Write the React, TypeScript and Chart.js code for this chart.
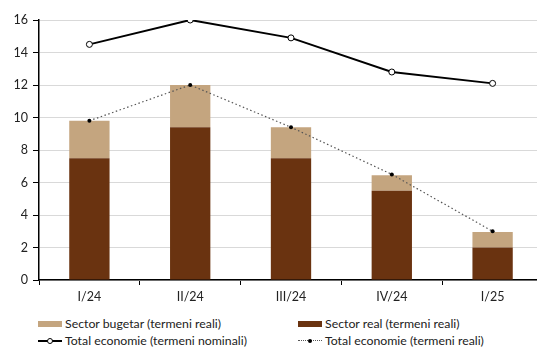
import React, { useEffect, useRef } from "react";
import { Chart, registerables } from "chart.js";

Chart.register(...registerables);

const categories = ["I/24", "II/24", "III/24", "IV/24", "I/25"];
const sectorReal = [7.5, 9.4, 7.5, 5.5, 2.0];
const sectorBugetar = [2.3, 2.6, 1.9, 0.95, 0.95];
const totalNominal = [14.5, 16.0, 14.9, 12.8, 12.1];
const totalReal = [9.8, 12.0, 9.4, 6.5, 3.0];
const yTicks = [0, 2, 4, 6, 8, 10, 12, 14, 16];

const LIGHT = "#c4a57f";
const DARK = "#6a3310";
const FONT = "Lato";

export default function App() {
  const ref = useRef<HTMLCanvasElement | null>(null);
  useEffect(() => {
    if (!ref.current) return;
    const chart = new Chart(ref.current, {
      type: "bar",
      data: {
        labels: categories,
        datasets: [
          {
            type: "line",
            label: "Total economie (termeni nominali)",
            data: totalNominal,
            borderColor: "#000",
            borderWidth: 2,
            pointRadius: 3,
            pointBackgroundColor: "#fff",
            pointBorderColor: "#000",
            pointBorderWidth: 1,
            stack: "n",
            order: 0,
          } as any,
          {
            type: "line",
            label: "Total economie (termeni reali)",
            data: totalReal,
            borderColor: "#555",
            borderWidth: 1.2,
            borderDash: [1.5, 2.5],
            pointRadius: 2,
            pointBackgroundColor: "#000",
            pointBorderColor: "#000",
            pointBorderWidth: 0,
            stack: "r",
            order: 0,
          } as any,
          {
            label: "Sector real (termeni reali)",
            data: sectorReal,
            backgroundColor: DARK,
            stack: "bars",
            order: 1,
            barPercentage: 0.4,
            categoryPercentage: 1,
          },
          {
            label: "Sector bugetar (termeni reali)",
            data: sectorBugetar,
            backgroundColor: LIGHT,
            stack: "bars",
            order: 1,
            barPercentage: 0.4,
            categoryPercentage: 1,
          },
        ],
      },
      options: {
        animation: false,
        responsive: false,
        layout: { padding: { top: 20, right: 4, left: 0, bottom: 0 } },
        plugins: { legend: { display: false }, tooltip: { enabled: false } },
        scales: {
          x: {
            stacked: true,
            grid: {
              display: true,
              drawOnChartArea: false,
              drawTicks: true,
              tickLength: 5,
              tickColor: "#000",
              offset: true,
            },
            border: { display: true, color: "#000", width: 1.5 },
            ticks: { color: "#222", font: { family: FONT, size: 12.5 }, padding: 4 },
            afterFit: (s: any) => {
              s.height = 25;
            },
          },
          y: {
            stacked: true,
            min: 0,
            max: 16,
            afterBuildTicks: (s: any) => {
              s.ticks = yTicks.map((v) => ({ value: v }));
            },
            grid: { color: "#d9d9d9", tickColor: "#000", tickLength: 6, lineWidth: 1 },
            border: { display: true, color: "#000", width: 1.5 },
            ticks: { color: "#222", font: { family: FONT, size: 12.5 }, padding: 5 },
            afterFit: (s: any) => {
              s.width = 39;
            },
          },
        },
      },
    });
    return () => chart.destroy();
  }, []);

  const textStyle: React.CSSProperties = {
    position: "absolute",
    fontFamily: FONT,
    fontSize: 12.3,
    color: "#222",
    whiteSpace: "nowrap",
    lineHeight: "14px",
  };
  return (
    <div
      style={{
        position: "fixed",
        left: 0,
        top: 0,
        width: 537,
        height: 350,
        overflow: "hidden",
        background: "#fff",
      }}
    >
      <canvas ref={ref} width={548} height={305} style={{ position: "absolute", left: 0, top: 0 }} />
      {/* legend */}
      <div style={{ position: "absolute", left: 38, top: 321, width: 24, height: 6, background: LIGHT }} />
      <div style={{ ...textStyle, left: 65, top: 317 }}>Sector bugetar (termeni reali)</div>
      <div style={{ position: "absolute", left: 298, top: 321, width: 24, height: 6, background: DARK }} />
      <div style={{ ...textStyle, left: 325, top: 317 }}>Sector real (termeni reali)</div>
      <div style={{ position: "absolute", left: 38, top: 340, width: 24, height: 2, background: "#000" }} />
      <div
        style={{
          position: "absolute",
          left: 47,
          top: 338,
          width: 4,
          height: 4,
          borderRadius: "50%",
          border: "1px solid #000",
          background: "#fff",
        }}
      />
      <div style={{ ...textStyle, left: 65, top: 334 }}>Total economie (termeni nominali)</div>
      <div
        style={{
          position: "absolute",
          left: 298,
          top: 340,
          width: 24,
          height: 0,
          borderTop: "1px dotted #555",
        }}
      />
      <div
        style={{
          position: "absolute",
          left: 308,
          top: 339,
          width: 4,
          height: 4,
          borderRadius: "50%",
          background: "#000",
        }}
      />
      <div style={{ ...textStyle, left: 325, top: 334 }}>Total economie (termeni reali)</div>
    </div>
  );
}
